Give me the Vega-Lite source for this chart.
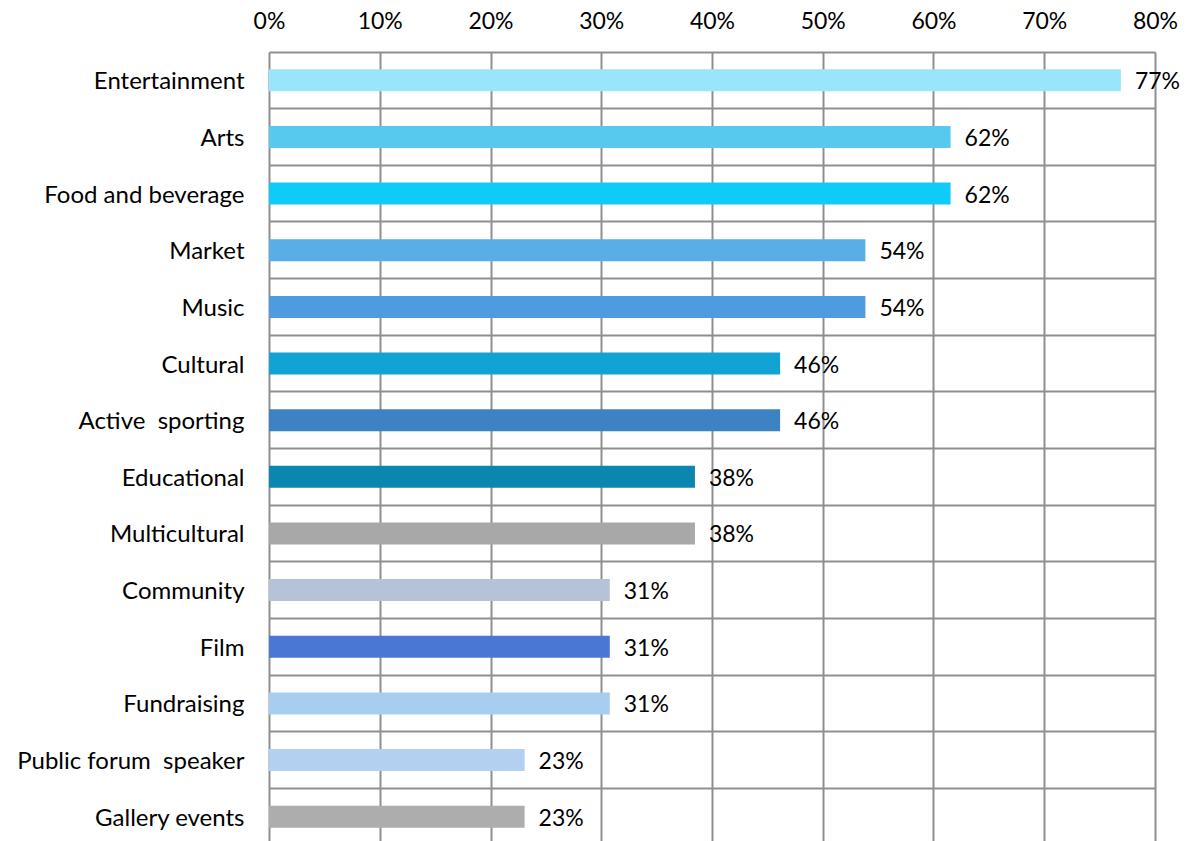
{
  "$schema": "https://vega.github.io/schema/vega-lite/v6.json",
  "autosize": {"type": "none"},
  "padding": {"left": 269, "top": 52, "right": 37, "bottom": 0},
  "width": 886,
  "height": 793,
  "background": "white",
  "config": {
    "view": {"stroke": null},
    "font": "Lato",
    "axis": {"labelFont": "Lato", "labelColor": "#000000"}
  },
  "data": {
    "values": [
      {"category": "Entertainment", "value": 0.7692},
      {"category": "Arts", "value": 0.6154},
      {"category": "Food and beverage", "value": 0.6154},
      {"category": "Market", "value": 0.5385},
      {"category": "Music", "value": 0.5385},
      {"category": "Cultural", "value": 0.4615},
      {"category": "Active \u00a0sporting", "value": 0.4615},
      {"category": "Educational", "value": 0.3846},
      {"category": "Multicultural", "value": 0.3846},
      {"category": "Community", "value": 0.3077},
      {"category": "Film", "value": 0.3077},
      {"category": "Fundraising", "value": 0.3077},
      {"category": "Public forum \u00a0speaker", "value": 0.2308},
      {"category": "Gallery events", "value": 0.2308}
    ]
  },
  "encoding": {
    "y": {
      "field": "category",
      "type": "nominal",
      "sort": null,
      "scale": {"paddingInner": 0, "paddingOuter": 0},
      "axis": {
        "title": null,
        "domain": false,
        "ticks": false,
        "labelFontSize": 24,
        "labelPadding": 25,
        "labelLimit": 400,
        "labelOffset": 2,
        "grid": true,
        "bandPosition": 0,
        "gridColor": "#8f8f8f",
        "gridWidth": 2,
        "gridOpacity": 1
      }
    },
    "x": {
      "field": "value",
      "type": "quantitative",
      "scale": {"domain": [0, 0.8], "nice": false},
      "axis": {
        "orient": "top",
        "title": null,
        "format": ".0%",
        "values": [0, 0.1, 0.2, 0.3, 0.4, 0.5, 0.6, 0.7, 0.8],
        "domain": false,
        "ticks": false,
        "labelFontSize": 23,
        "labelPadding": 19,
        "labelFlush": false,
        "grid": true,
        "gridColor": "#8f8f8f",
        "gridWidth": 2,
        "gridOpacity": 1
      }
    }
  },
  "layer": [
    {
      "mark": {"type": "bar", "height": 22},
      "encoding": {
        "color": {
          "field": "category",
          "type": "nominal",
          "legend": null,
          "scale": {
            "domain": ["Entertainment", "Arts", "Food and beverage", "Market", "Music", "Cultural", "Active \u00a0sporting", "Educational", "Multicultural", "Community", "Film", "Fundraising", "Public forum \u00a0speaker", "Gallery events"],
            "range": ["#99E5FB", "#58C9EE", "#0FCBFA", "#5AAEE8", "#4E9BE0", "#10A3D4", "#3D83C4", "#0B86AE", "#A8A8A8", "#B6C2D6", "#4A77D4", "#A7CDF0", "#B4D0F0", "#ADADAD"]
          }
        }
      }
    },
    {
      "mark": {"type": "text", "align": "left", "baseline": "middle", "dx": 14, "dy": 2, "fontSize": 23, "color": "#000000"},
      "encoding": {
        "text": {"field": "value", "type": "quantitative", "format": ".0%"}
      }
    }
  ]
}
